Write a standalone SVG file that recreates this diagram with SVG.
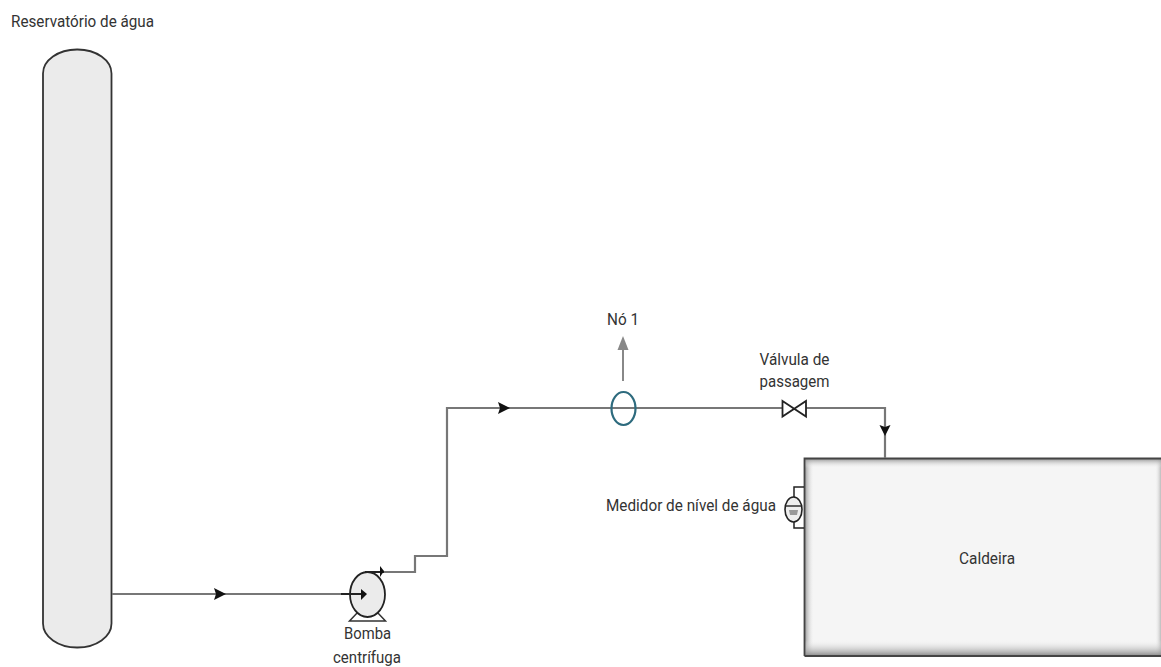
<svg xmlns="http://www.w3.org/2000/svg" width="1161" height="667" viewBox="0 0 1161 667">
<style>
text{font-family:"Roboto","Liberation Sans",sans-serif;font-size:17px;fill:#333}
.pipe{fill:none;stroke:#777;stroke-width:2.200}
.head{fill:#111}
</style>
<defs>
<linearGradient id="l" x1="0" x2="1" y1="0" y2="0"><stop offset="0" stop-color="#888"/><stop offset="1" stop-color="#f5f5f5" stop-opacity="0"/></linearGradient>
<linearGradient id="r" x1="1" x2="0" y1="0" y2="0"><stop offset="0" stop-color="#bbb"/><stop offset="1" stop-color="#f5f5f5" stop-opacity="0"/></linearGradient>
<linearGradient id="t" x1="0" x2="0" y1="0" y2="1"><stop offset="0" stop-color="#888"/><stop offset="1" stop-color="#f5f5f5" stop-opacity="0"/></linearGradient>
<linearGradient id="b" x1="0" x2="0" y1="1" y2="0"><stop offset="0" stop-color="#888"/><stop offset="1" stop-color="#f5f5f5" stop-opacity="0"/></linearGradient>
</defs>
<g id="reservatorio">
<rect x="43" y="49.500" width="68.500" height="598" rx="34" ry="24" fill="#ebebeb" stroke="#333" stroke-width="1.800"/>
<text x="11" y="27" textLength="143" lengthAdjust="spacingAndGlyphs">Reservatório de água</text>
</g>
<g id="caldeira">
<rect x="804" y="458" width="357" height="198" fill="#f5f5f5"/>
<rect x="804" y="458" width="10" height="198" fill="url(#l)"/>
<rect x="1155" y="458" width="6" height="198" fill="url(#r)"/>
<rect x="804" y="458" width="357" height="10" fill="url(#t)"/>
<rect x="804" y="640" width="357" height="16" fill="url(#b)"/>
<path d="M804.500 656V458.500H1161M804.500 656H1161" fill="none" stroke="#444" stroke-width="1.800"/>
<text x="987" y="564" text-anchor="middle" textLength="56" lengthAdjust="spacingAndGlyphs">Caldeira</text>
</g>
<g id="connectors">
<path class="pipe" d="M112 594H350"/>
<path class="pipe" d="M384 572H415V556H447V408H782M806 408H885V458"/>
<path d="M623 381V345" fill="none" stroke="#888" stroke-width="2"/>
<path d="M623 336L628.500 350H617.500Z" fill="#888"/>
<path class="head" d="M226 594L214 588L216 594L214 600Z"/>
<path class="head" d="M510 408L498 402L500 408L498 414Z"/>
<path class="head" d="M885 436L879.500 425L885 427L890.500 425Z"/>
</g>
<g id="bomba">
<path d="M349.500 621L358 612H377L385.500 621Z" fill="#fff" stroke="#333" stroke-width="1.500"/>
<ellipse cx="367.500" cy="594.500" rx="17.500" ry="22.500" fill="#ebebeb" stroke="#222" stroke-width="1.800"/>
<path d="M341 594H362M365 572H384" fill="none" stroke="#222" stroke-width="1.800"/>
<path class="head" d="M367 594L361 589V600Z"/>
<path class="head" d="M384 571L380 566V577Z"/>
<text x="367.500" y="639" text-anchor="middle" textLength="47" lengthAdjust="spacingAndGlyphs">Bomba</text>
<text x="367" y="663" text-anchor="middle" textLength="68" lengthAdjust="spacingAndGlyphs">centrífuga</text>
</g>
<g id="no1">
<ellipse cx="623.500" cy="408.500" rx="12" ry="16.500" fill="none" stroke="#2e6b7e" stroke-width="2.200"/>
<text x="623" y="325" text-anchor="middle" textLength="32" lengthAdjust="spacingAndGlyphs">Nó 1</text>
</g>
<g id="valvula">
<path d="M782.500 401L806 416.500V401L782.500 416.500Z" fill="#fff" stroke="#222" stroke-width="1.800"/>
<text x="794.500" y="365" text-anchor="middle" textLength="70" lengthAdjust="spacingAndGlyphs">Válvula de</text>
<text x="794.500" y="387" text-anchor="middle" textLength="70" lengthAdjust="spacingAndGlyphs">passagem</text>
</g>
<g id="medidor">
<path d="M804 487H794V497M794 522V528H804" fill="none" stroke="#222" stroke-width="1.500"/>
<ellipse cx="793.500" cy="509.500" rx="8.500" ry="12.500" fill="#eee" stroke="#222" stroke-width="1.600"/>
<path d="M785.500 506H801.500" stroke="#222" stroke-width="1.400"/>
<path d="M789 510H798L797 515H790Z" fill="#999"/>
<text x="606" y="511" textLength="170" lengthAdjust="spacingAndGlyphs">Medidor de nível de água</text>
</g>
</svg>
